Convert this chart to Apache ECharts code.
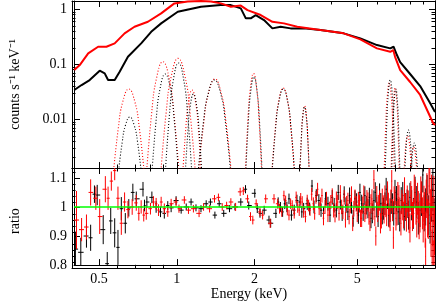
<!DOCTYPE html>
<html><head><meta charset="utf-8">
<script src="https://cdn.jsdelivr.net/npm/echarts@6/dist/echarts.min.js"></script>
<style>html,body{margin:0;padding:0;background:#fff}#c{width:436px;height:302px}</style>
</head><body><div id="c"></div>
<script>
// ---------- data ----------
const specBlackE = [0.401,0.428,0.460,0.503,0.526,0.542,0.575,0.601,0.647,0.728,0.796,0.870,1.009,1.241,1.482,1.620,1.770,1.851,1.934,2.022,2.177,2.346,2.525,2.760,3.106,3.602,4.43,5.14,5.96,6.71,6.91,7.12,7.33,8.01,8.76,9.57,10.0];
const specBlackV = [0.0341,0.042,0.0518,0.0765,0.0686,0.0518,0.0518,0.0733,0.1375,0.241,0.391,0.556,0.905,1.115,1.197,1.197,1.043,0.686,0.686,0.788,0.639,0.451,0.483,0.451,0.451,0.420,0.366,0.297,0.224,0.195,0.209,0.1476,0.110,0.0667,0.0403,0.0198,0.0136];
const specRedE = [0.401,0.421,0.454,0.496,0.534,0.575,0.628,0.686,0.773,0.870,0.979,1.103,1.241,1.356,1.482,1.620,1.770,1.879,2.114,2.346,2.600,2.928,3.602,4.43,5.14,5.96,6.71,6.89,7.01,7.33,8.01,8.76,9.83,10.0];
const specRedV = [0.0788,0.0971,0.158,0.209,0.209,0.241,0.366,0.483,0.595,0.846,1.285,1.386,1.416,1.386,1.285,1.115,1.172,0.971,0.788,0.595,0.556,0.483,0.420,0.366,0.285,0.195,0.169,0.182,0.1358,0.0788,0.0477,0.0277,0.00857,0.00788];

const gaussRedE = [
 [0.567,0.594,0.618,0.652,0.688,0.716,0.750],
 [0.761,0.799,0.834,0.883,0.935,0.975,1.025],
 [0.864,0.910,0.953,1.012,1.075,1.125,1.186],
 [1.054,1.084,1.110,1.146,1.183,1.212,1.246],
 [1.210,1.272,1.327,1.405,1.487,1.552,1.631],
 [1.840,1.886,1.927,1.982,2.039,2.083,2.136],
 [2.330,2.411,2.483,2.582,2.685,2.765,2.861],
 [2.997,3.039,3.076,3.125,3.175,3.214,3.259],
 [6.347,6.447,6.533,6.65,6.769,6.860,6.967],
 [6.753,6.838,6.911,7.01,7.110,7.187,7.276],
 [7.588,7.671,7.744,7.84,7.938,8.012,8.100],
 [8.032,8.107,8.172,8.26,8.348,8.415,8.494]
];
const gaussRedV = [
 [0.00093,0.00703,0.0209,0.0356,0.0209,0.00703,0.00093],
 [0.00082,0.0126,0.0547,0.1115,0.0547,0.0126,0.00082],
 [0.00081,0.01353,0.0617,0.1285,0.0617,0.01353,0.00081],
 [0.00093,0.00688,0.0202,0.0341,0.0202,0.00688,0.00093],
 [0.00089,0.0087,0.0298,0.054,0.0298,0.0087,0.00089],
 [0.00087,0.00978,0.0361,0.068,0.0361,0.00978,0.00087],
 [0.00092,0.00718,0.0217,0.0371,0.0217,0.00718,0.00092],
 [0.001,0.00489,0.01151,0.01745,0.01151,0.00489,0.001],
 [0.0009,0.00799,0.02585,0.0457,0.02585,0.00799,0.0009],
 [0.00092,0.00718,0.0217,0.0371,0.0217,0.00718,0.00092],
 [0.00113,0.00258,0.00401,0.00497,0.00401,0.00258,0.00113],
 [0.00119,0.00204,0.00272,0.00314,0.00272,0.00204,0.00119]
];
const gaussBlackE = [
 [0.594,0.615,0.633,0.658,0.684,0.705,0.729],
 [0.799,0.832,0.861,0.902,0.945,0.978,1.018],
 [0.900,0.937,0.970,1.016,1.064,1.102,1.147],
 [1.078,1.105,1.128,1.161,1.194,1.220,1.251],
 [1.205,1.267,1.322,1.399,1.481,1.545,1.624],
 [1.847,1.893,1.934,1.990,2.047,2.091,2.144],
 [2.334,2.415,2.487,2.586,2.689,2.769,2.865],
 [2.997,3.039,3.076,3.125,3.175,3.214,3.259],
 [6.405,6.505,6.592,6.71,6.830,6.922,7.030],
 [6.792,6.877,6.951,7.05,7.151,7.228,7.318],
 [7.637,7.720,7.793,7.89,7.989,8.064,8.152],
 [8.090,8.166,8.232,8.32,8.409,8.476,8.556]
];
const gaussBlackV = [
 [0.00104,0.00386,0.00782,0.0110,0.00782,0.00386,0.00104],
 [0.00087,0.00968,0.0355,0.0666,0.0355,0.00968,0.00087],
 [0.00083,0.01225,0.0522,0.1056,0.0522,0.01225,0.00083],
 [0.00095,0.00632,0.01757,0.0288,0.01757,0.00632,0.00095],
 [0.00089,0.00852,0.0287,0.0518,0.0287,0.00852,0.00089],
 [0.00088,0.00908,0.0319,0.0588,0.0319,0.00908,0.00088],
 [0.00093,0.00703,0.0209,0.0356,0.0209,0.00703,0.00093],
 [0.001,0.00478,0.01112,0.01673,0.01112,0.00478,0.001],
 [0.00089,0.00852,0.0287,0.0518,0.0287,0.00852,0.00089],
 [0.00093,0.00703,0.0209,0.0356,0.0209,0.00703,0.00093],
 [0.0011,0.00293,0.00495,0.00639,0.00495,0.00293,0.0011],
 [0.00117,0.00222,0.00313,0.00371,0.00313,0.00222,0.00117]
];

const ratioBlackE = [0.405,0.425,0.447,0.464,0.480,0.492,0.519,0.538,0.555,0.575,0.592,0.610,0.632,0.652,0.676,0.697,0.740,0.750,0.766,0.801,0.832,0.865,0.895,0.923,0.951,0.994,1.04,1.088,1.136,1.187,1.241,1.30,1.35,1.405,1.46,1.52,1.60,1.68,1.77,1.846,1.90,2.005,2.05,2.10,2.18,2.276,2.31,
 2.42,2.47,2.52,2.57,2.62,2.67,2.72,2.78,2.85,2.92,3.00,3.05,3.10,3.20,3.27,3.34,3.40,3.47,3.55,3.62,3.70,3.77,3.85,3.92,4.00,4.07,4.15,4.22,4.30,4.37,4.45,4.52,4.60,4.67,4.75,4.82,4.90,4.97,5.05,5.12,5.20,5.27,5.35,5.42,5.50,5.57,5.65,5.72,5.80,5.87,5.95,6.02,6.10,6.17,6.25,6.32,6.40,6.47,6.55,6.62,6.70,6.77,6.85,6.92,7.00,7.10,7.20,7.30,7.40,7.50,7.60,7.70,7.80,7.90,8.00,8.12,8.25,8.37,8.50,8.62,8.75,8.86,8.97,9.08,9.20,9.32,9.45,9.57,9.70,9.81,9.92];
const ratioBlackR = [0.855,0.844,0.900,0.894,1.044,1.041,0.922,0.805,0.952,0.911,0.861,0.994,0.944,0.997,1.050,1.028,1.061,1.005,1.017,1.033,1.000,0.983,0.978,1.005,0.997,1.022,0.989,1.000,1.017,0.997,0.994,1.011,1.017,0.972,1.011,0.978,0.994,1.000,1.017,1.061,1.005,1.047,0.994,0.978,0.989,0.955,0.944,
 0.978,1.017,1.000,0.983,1.011,1.000,1.028,0.972,0.989,1.022,1.017,0.983,0.994,1.011,0.994,1.072,1.000,1.039,1.022,0.989,0.978,1.028,1.011,0.972,1.033,1.006,0.989,1.050,1.017,0.978,1.044,1.006,0.983,1.039,1.005,0.961,1.028,1.017,0.972,1.050,1.011,0.983,1.039,1.006,0.994,1.033,0.961,0.978,1.022,1.050,1.000,0.967,1.044,1.011,0.978,0.994,1.011,1.061,1.033,0.972,0.989,1.017,1.005,0.978,1.050,1.028,0.983,0.961,1.022,1.039,0.967,1.000,1.011,0.972,1.033,1.006,0.978,1.050,1.017,0.961,0.989,1.028,1.110,0.978,1.000,1.044,0.972,0.944,1.022,1.061,0.950];
const ratioBlackErr = [0.06,0.05,0.04,0.045,0.03,0.035,0.05,0.04,0.045,0.05,0.06,0.04,0.035,0.03,0.03,0.025,0.025,0.02,0.02,0.02,0.02,0.018,0.018,0.015,0.015,0.015,0.012,0.012,0.012,0.012,0.012,0.012,0.012,0.012,0.012,0.012,0.012,0.012,0.013,0.014,0.014,0.015,0.015,0.015,0.015,0.015,0.015,
 0.016,0.016,0.017,0.017,0.018,0.018,0.018,0.019,0.019,0.02,0.02,0.02,0.02,0.021,0.021,0.021,0.022,0.022,0.022,0.023,0.023,0.023,0.024,0.024,0.025,0.025,0.025,0.026,0.026,0.026,0.027,0.027,0.028,0.028,0.028,0.029,0.029,0.03,0.03,0.03,0.031,0.031,0.032,0.032,0.033,0.033,0.034,0.034,0.035,0.035,0.036,0.036,0.037,0.037,0.038,0.038,0.039,0.039,0.04,0.04,0.041,0.041,0.042,0.042,0.043,0.044,0.045,0.045,0.046,0.047,0.048,0.048,0.049,0.05,0.05,0.052,0.053,0.054,0.055,0.056,0.058,0.059,0.06,0.062,0.064,0.066,0.068,0.07,0.073,0.076,0.08];

const ratioRedE = [0.409,0.428,0.447,0.464,0.486,0.503,0.529,0.542,0.558,0.575,0.592,0.610,0.628,0.647,0.672,0.697,0.713,0.728,0.745,0.762,0.791,0.812,0.832,0.850,0.870,0.895,0.923,0.951,0.994,1.02,1.07,1.11,1.16,1.22,1.27,1.34,1.40,1.45,1.50,1.56,1.62,1.69,1.76,1.81,1.88,1.93,1.97,2.03,2.10,2.15,2.21,2.30,2.38,
 2.46,2.50,2.55,2.60,2.64,2.68,2.72,2.76,2.80,2.85,2.90,2.94,2.98,
 3.02,3.06,3.10,3.15,3.20,3.24,3.28,3.33,3.38,3.42,3.46,3.51,3.56,3.60,3.65,3.70,3.75,3.80,3.85,3.90,3.95,
 4.00,4.05,4.10,4.15,4.20,4.25,4.30,4.35,4.40,4.45,4.50,4.55,4.60,4.65,4.70,4.75,4.80,4.85,4.90,4.95,
 5.00,5.05,5.10,5.15,5.20,5.25,5.30,5.35,5.40,5.45,5.50,5.55,5.60,5.65,5.70,5.75,5.80,5.85,5.90,5.95,
 6.00,6.05,6.10,6.15,6.20,6.25,6.30,6.35,6.40,6.45,6.50,6.55,6.60,6.65,6.70,6.75,6.80,6.85,6.90,6.95,
 7.00,7.06,7.12,7.18,7.25,7.31,7.38,7.44,7.50,7.56,7.62,7.68,7.75,7.81,7.88,7.94,
 8.00,8.06,8.12,8.18,8.25,8.31,8.38,8.44,8.50,8.56,8.62,8.68,8.75,8.81,8.88,8.94,
 9.00,9.06,9.12,9.16,9.20,9.25,9.30,9.36,9.42,9.48,9.55,9.60,9.65,9.70,9.75,9.80,9.85,9.90,9.95,9.99];
const ratioRedR = [0.955,0.922,0.931,1.050,1.030,0.967,1.061,1.030,1.089,1.125,1.030,0.944,1.017,0.991,1.000,1.014,0.978,1.000,0.972,0.978,0.994,1.017,1.011,0.989,1.017,0.994,0.983,1.011,1.017,0.994,1.024,0.989,0.994,0.978,1.000,0.994,1.028,1.033,1.000,1.005,1.017,1.000,1.052,1.055,1.028,0.967,0.955,1.011,0.983,0.972,1.028,0.944,1.028,
 1.011,0.994,0.983,1.039,1.022,0.989,0.972,1.011,1.005,0.978,1.033,1.000,0.989,
 1.028,1.017,0.983,0.967,1.022,1.005,0.989,1.044,1.011,0.978,1.033,1.061,0.994,1.011,1.039,0.961,1.000,1.028,0.972,0.994,1.017,
 1.039,0.989,0.972,1.028,1.017,0.978,1.050,1.000,0.983,1.033,0.956,1.011,1.022,0.967,1.005,1.044,0.944,0.994,1.033,1.011,
 0.978,1.022,1.011,0.961,0.961,1.006,1.044,0.978,0.989,1.028,1.017,0.972,0.950,1.011,1.028,0.989,1.094,0.967,0.900,1.039,
 0.983,1.006,1.022,0.944,0.961,1.028,1.005,0.978,1.039,1.000,0.972,1.050,1.011,0.967,0.955,1.022,1.089,0.989,0.894,1.033,
 1.017,0.961,0.978,1.044,1.033,0.989,0.944,1.017,1.000,0.972,1.056,1.000,0.961,1.028,1.011,0.956,
 0.928,1.039,1.022,0.967,0.978,1.061,1.044,0.989,0.950,1.028,1.000,0.944,0.967,1.050,1.033,0.978,
 0.940,1.011,0.989,0.922,0.830,1.028,1.050,0.961,0.956,1.072,1.118,0.989,0.900,1.039,0.850,0.950,0.800,1.022,0.920,0.870];
const ratioRedErr = [0.1,0.04,0.043,0.045,0.04,0.06,0.045,0.04,0.033,0.033,0.04,0.04,0.033,0.03,0.027,0.027,0.025,0.023,0.022,0.022,0.02,0.02,0.02,0.02,0.018,0.018,0.017,0.017,0.015,0.014,0.013,0.013,0.013,0.013,0.013,0.013,0.013,0.013,0.013,0.013,0.013,0.014,0.014,0.014,0.014,0.015,0.015,0.015,0.015,0.015,0.015,0.016,0.016,
 0.017,0.017,0.017,0.017,0.017,0.018,0.018,0.018,0.018,0.018,0.02,0.02,0.02,
 0.02,0.02,0.02,0.02,0.02,0.02,0.02,0.022,0.022,0.022,0.022,0.022,0.022,0.022,0.024,0.024,0.024,0.024,0.024,0.024,0.024,
 0.025,0.025,0.025,0.025,0.025,0.025,0.025,0.025,0.025,0.025,0.027,0.027,0.027,0.027,0.027,0.027,0.027,0.027,0.027,0.027,
 0.03,0.03,0.03,0.03,0.03,0.03,0.03,0.03,0.03,0.03,0.033,0.033,0.033,0.033,0.033,0.033,0.033,0.033,0.033,0.033,
 0.035,0.035,0.035,0.035,0.035,0.035,0.035,0.035,0.035,0.035,0.038,0.038,0.038,0.038,0.038,0.038,0.038,0.038,0.038,0.038,
 0.042,0.042,0.042,0.042,0.042,0.042,0.042,0.042,0.046,0.046,0.046,0.046,0.046,0.046,0.046,0.046,
 0.05,0.05,0.05,0.05,0.05,0.05,0.05,0.05,0.055,0.055,0.055,0.055,0.055,0.055,0.055,0.055,
 0.062,0.062,0.062,0.062,0.062,0.066,0.066,0.066,0.066,0.066,0.072,0.072,0.072,0.072,0.072,0.085,0.085,0.085,0.085,0.085];

const modelRatio = [[0.4, 1], [10, 1]];

const xMajorTicks = [0.5, 1, 2, 5];
const xMinorTicks = [0.6, 0.7, 0.8, 0.9, 3, 4, 6, 7, 8, 9];
const xTickLabels = [0.5, 1, 2, 5];
const yMajorTicks = [0.01, 0.1, 1];
const yMinorTicks = [0.002,0.003,0.004,0.005,0.006,0.007,0.008,0.009,0.02,0.03,0.04,0.05,0.06,0.07,0.08,0.09,0.2,0.3,0.4,0.5,0.6,0.7,0.8,0.9];
const yTickLabels = [0.01, 0.1, 1];
const rMajorTicks = [0.8, 0.9, 1, 1.1];
const rMinorTicks = [0.82,0.84,0.86,0.88,0.92,0.94,0.96,0.98,1.02,1.04,1.06,1.08,1.12];
const rTickLabels = [0.8, 0.9, 1, 1.1];

// ---------- chart ----------
const FONT = 'Liberation Serif';
const X0 = 0.4, X1 = 10, Y0 = 0.0013, Y1 = 1.42, R0 = 0.8, R1 = 1.134;
const fmt = v => String(parseFloat(Number(v).toPrecision(6)));

function ax(type, grid, pos, min, max, ticks, len, labels, extra) {
  const a = {
    type, gridIndex: grid, position: pos, min, max,
    axisLine: {show: true, onZero: false, lineStyle: {color: '#000', width: 1}},
    splitLine: {show: false}, minorTick: {show: false}, minorSplitLine: {show: false},
    axisTick: {show: true, inside: true, length: len, lineStyle: {color: '#000', width: 1}, customValues: ticks},
    axisLabel: labels ? {show: true, customValues: labels, formatter: fmt, color: '#000', fontFamily: FONT, fontSize: 14, margin: 7}
                      : {show: false},
    axisPointer: {show: false}, silent: true
  };
  if (type === 'log') a.logBase = 10;
  return Object.assign(a, extra || {});
}
const nameStyle = {fontFamily: FONT, fontSize: 14, color: '#000'};

const xAxes = [
  ax('log', 0, 'bottom', X0, X1, xMajorTicks, 6),
  ax('log', 0, 'top', X0, X1, xMajorTicks, 6),
  ax('log', 1, 'bottom', X0, X1, xMinorTicks, 3.5),
  ax('log', 1, 'top', X0, X1, xMinorTicks, 3.5),
  ax('log', 2, 'bottom', X0, X1, xMajorTicks, 6, xTickLabels,
     {name: 'Energy (keV)', nameLocation: 'middle', nameGap: 20, nameTextStyle: Object.assign({padding: [0, 11, 0, 0]}, nameStyle)}),
  ax('log', 2, 'top', X0, X1, xMajorTicks, 6),
  ax('log', 3, 'bottom', X0, X1, xMinorTicks, 3.5),
  ax('log', 3, 'top', X0, X1, xMinorTicks, 3.5)
];
const yAxes = [
  ax('log', 0, 'left', Y0, Y1, yMajorTicks, 6, yTickLabels,
     {name: 'counts s\u207B\u00B9 keV\u207B\u00B9', nameLocation: 'middle', nameGap: 52, nameRotate: 90, nameTextStyle: nameStyle}),
  ax('log', 0, 'right', Y0, Y1, yMajorTicks, 6),
  ax('log', 1, 'left', Y0, Y1, yMinorTicks, 3.5),
  ax('log', 1, 'right', Y0, Y1, yMinorTicks, 3.5),
  ax('value', 2, 'left', R0, R1, rMajorTicks, 6, rTickLabels,
     {name: 'ratio', nameLocation: 'middle', nameGap: 52, nameRotate: 90, nameTextStyle: Object.assign({padding: [0, 9, 0, 0]}, nameStyle)}),
  ax('value', 2, 'right', R0, R1, rMajorTicks, 6),
  ax('value', 3, 'left', R0, R1, rMinorTicks, 3.5),
  ax('value', 3, 'right', R0, R1, rMinorTicks, 3.5)
];

const topGrid = {left: 72, top: 1, width: 363, height: 167};
const botGrid = {left: 72, top: 168, width: 363, height: 100.3};

function pairs(E, V) { return E.map((e, i) => [e, V[i]]); }
function errData(E, R, Err) {
  return E.map((e, i) => {
    const lo = i > 0 ? Math.sqrt(e * E[i - 1]) : e * e / Math.sqrt(e * E[i + 1]);
    const hi = i < E.length - 1 ? Math.sqrt(e * E[i + 1]) : e * e / Math.sqrt(e * E[i - 1]);
    return [e, R[i], Err[i], lo, hi];
  });
}
function errSeries(data, color) {
  return {
    type: 'custom', xAxisIndex: 4, yAxisIndex: 4, clip: true, silent: true,
    encode: {x: 0, y: 1},
    data,
    renderItem: (params, api) => {
      const e = api.value(0), r = api.value(1), er = api.value(2), lo = api.value(3), hi = api.value(4);
      const c = api.coord([e, r]);
      const t = api.coord([e, r + er]);
      const b = api.coord([e, r - er]);
      const l = api.coord([lo, r]);
      const h = api.coord([hi, r]);
      const style = {stroke: color, lineWidth: 1, fill: null};
      return {type: 'group', children: [
        {type: 'line', shape: {x1: c[0], y1: t[1], x2: c[0], y2: b[1]}, style},
        {type: 'line', shape: {x1: l[0], y1: c[1], x2: h[0], y2: c[1]}, style}
      ]};
    }
  };
}

const series = [];
series.push({type: 'line', xAxisIndex: 0, yAxisIndex: 0, data: pairs(specBlackE, specBlackV), showSymbol: false, silent: true,
  lineStyle: {color: '#000', width: 2}, z: 3});
series.push({type: 'line', xAxisIndex: 0, yAxisIndex: 0, data: pairs(specRedE, specRedV), showSymbol: false, silent: true,
  lineStyle: {color: '#ff0000', width: 2}, z: 4});
gaussRedE.forEach((E, k) => series.push({type: 'line', xAxisIndex: 0, yAxisIndex: 0, data: pairs(E, gaussRedV[k]),
  showSymbol: false, silent: true, smooth: 0.5, lineStyle: {color: '#ff0000', width: 1.1, type: [1, 2]}, z: 2}));
gaussBlackE.forEach((E, k) => series.push({type: 'line', xAxisIndex: 0, yAxisIndex: 0, data: pairs(E, gaussBlackV[k]),
  showSymbol: false, silent: true, smooth: 0.5, lineStyle: {color: '#000', width: 1.1, type: [1, 2]}, z: 2}));
series.push(errSeries(errData(ratioBlackE, ratioBlackR, ratioBlackErr), '#000'));
series.push(errSeries(errData(ratioRedE, ratioRedR, ratioRedErr), '#ff0000'));
series.push({type: 'line', xAxisIndex: 4, yAxisIndex: 4, data: modelRatio, showSymbol: false, silent: true,
  lineStyle: {color: '#00ff00', width: 1.5}, z: 5});

const chart = echarts.init(document.getElementById('c'), null, {renderer: 'canvas'});
chart.setOption({
  animation: false,
  backgroundColor: '#fff',
  grid: [topGrid, Object.assign({}, topGrid), botGrid, Object.assign({}, botGrid)],
  xAxis: xAxes,
  yAxis: yAxes,
  series
});
</script></body></html>
